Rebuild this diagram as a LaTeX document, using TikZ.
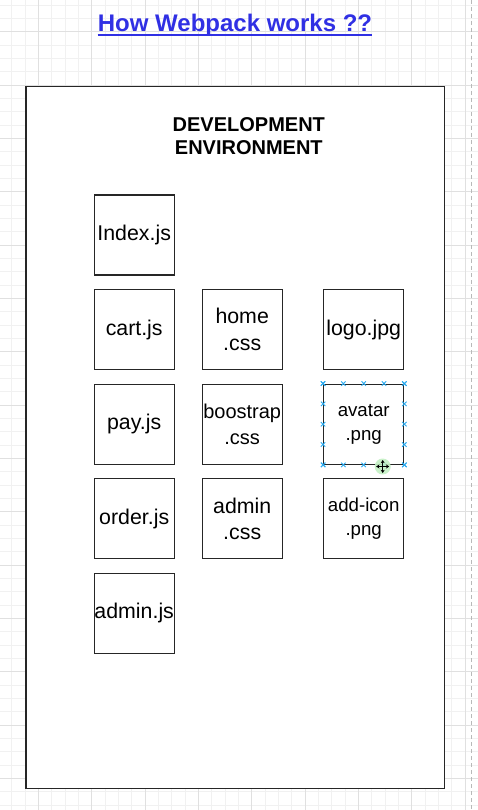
\documentclass[tikz,border=0pt]{standalone}
\usepackage{fontspec}
\setmainfont{Liberation Sans}
\usetikzlibrary{positioning,calc,arrows.meta}

\definecolor{gridminor}{RGB}{241,241,241}
\definecolor{gridmajor}{RGB}{224,224,224}
\definecolor{linkblue}{RGB}{48,48,228}
\definecolor{handleblue}{RGB}{41,170,240}
\definecolor{moveglow}{RGB}{196,240,196}

\tikzset{
  filebox/.style={draw=black!85,line width=1.3pt,fill=white,minimum width=80pt,minimum height=80pt,
    inner sep=0pt,align=center,font=\fontsize{21.33}{26.5}\selectfont},
  pngbox/.style={filebox,font=\fontsize{18.67}{24.5}\selectfont},
  handle/.style={handleblue,line width=0.9pt},
}

\begin{document}
\begin{tikzpicture}[x=1pt,y=-1pt]
  \useasboundingbox (0,0) rectangle (478,810);
  \fill[white] (0,0) rectangle (478,810);

  % grid
  \foreach \i in {-1,...,35}
    \draw[gridminor,line width=0.8pt] ({11.667+13.333*\i},0) -- ++(0,810);
  \foreach \i in {0,...,60}
    \draw[gridminor,line width=0.8pt] (0,{5+13.333*\i}) -- ++(478,0);
  \foreach \i in {-1,...,8}
    \draw[gridmajor,line width=0.8pt] ({38.333+53.333*\i},0) -- ++(0,810);
  \foreach \i in {0,...,14}
    \draw[gridmajor,line width=0.8pt] (0,{31.667+53.333*\i}) -- ++(478,0);
  \draw[gray!55,line width=1pt,dash pattern=on 4pt off 3pt] (471,0) -- (471,810);

  % title
  \node[inner sep=0pt,text=linkblue,font=\fontsize{24}{28}\selectfont\bfseries] (title) at (235,25) {How Webpack works ??};
  \draw[linkblue,line width=1.8pt] ([yshift=-3.5pt]title.base west) -- ([yshift=-3.5pt]title.base east);

  % environment
  \node[draw=black!85,line width=1.3pt,fill=white,minimum width=418.5pt,minimum height=702pt,inner sep=0pt] (env) at (235.3,437.7) {};
  \node[align=center,font=\fontsize{20}{23}\selectfont\bfseries] (envtitle) at (248.8,136) {DEVELOPMENT\\ENVIRONMENT};

  % js files
  \node[filebox] (index) at (134.2,235) {Index.js};
  \node[filebox,below=13.3pt of index] (cart) {cart.js};
  \node[filebox,below=13.3pt of cart] (pay) {pay.js};
  \node[filebox,below=13.3pt of pay] (order) {order.js};
  \node[filebox,below=13.3pt of order] (adminjs) {admin.js};

  % css files
  \node[filebox,right=26.7pt of cart] (home) {home\\.css};
  \node[filebox,below=13.3pt of home,font=\fontsize{20}{26.5}\selectfont] (bootstrap) {boostrap\\.css};
  \node[filebox,below=13.3pt of bootstrap] (admincss) {admin\\.css};

  % images
  \node[filebox,right=40.2pt of home] (logo) {logo.jpg};
  \node[pngbox,below=13.3pt of logo] (avatar) {avatar\\.png};
  \node[pngbox,below=13.3pt of avatar] (addicon) {add-icon\\.png};

  % selection handles
  \foreach \t in {0,0.25,0.5,0.75,1} {
    \draw[handle] ($(avatar.north west)!\t!(avatar.north east)$) +(-2.2,-2.2) -- +(2.2,2.2) +(-2.2,2.2) -- +(2.2,-2.2);
    \draw[handle] ($(avatar.south west)!\t!(avatar.south east)$) +(-2.2,-2.2) -- +(2.2,2.2) +(-2.2,2.2) -- +(2.2,-2.2);
    \draw[handle] ($(avatar.north west)!\t!(avatar.south west)$) +(-2.2,-2.2) -- +(2.2,2.2) +(-2.2,2.2) -- +(2.2,-2.2);
    \draw[handle] ($(avatar.north east)!\t!(avatar.south east)$) +(-2.2,-2.2) -- +(2.2,2.2) +(-2.2,2.2) -- +(2.2,-2.2);
  }

  % move cursor
  \coordinate (move) at (382.7,466.5);
  \fill[moveglow,opacity=0.9] (move) circle (8pt);
  \foreach \a in {0,90,180,270}
    \draw[black,line width=1.2pt,-{Stealth[length=3.2pt,width=4pt]}] (move) -- ++(\a:6.5pt);
\end{tikzpicture}
\end{document}
